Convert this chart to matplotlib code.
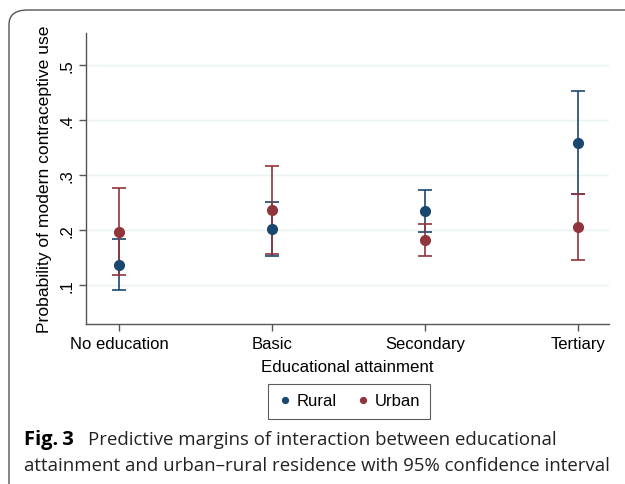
import matplotlib
matplotlib.use("Agg")
import matplotlib.pyplot as plt
from matplotlib.patches import FancyBboxPatch
import numpy as np

categories = ["No education", "Basic", "Secondary", "Tertiary"]
rural = [0.137, 0.202, 0.235, 0.358]
rural_lo = [0.091, 0.152, 0.197, 0.265]
rural_hi = [0.184, 0.251, 0.272, 0.452]
urban = [0.197, 0.237, 0.182, 0.205]
urban_lo = [0.118, 0.156, 0.153, 0.146]
urban_hi = [0.276, 0.317, 0.211, 0.265]
yticks = [0.1, 0.2, 0.3, 0.4, 0.5]
ytick_labels = [".1", ".2", ".3", ".4", ".5"]

navy = "#1a476f"
maroon = "#90353b"

fig = plt.figure(figsize=(6.25, 4.85), dpi=100)
plt.rcParams['font.family'] = ['Liberation Sans', 'DejaVu Sans']

# outer rounded frame
frame = FancyBboxPatch((9 / 625, -0.2), 1.2, (485 - 11) / 485 + 0.2,
                       boxstyle="round,pad=0,rounding_size=0.03",
                       transform=fig.transFigure, fill=False,
                       edgecolor="#555555", linewidth=1.0, clip_on=False)
fig.patches.append(frame)

ax = fig.add_axes([86 / 625, 1 - 325 / 485, (609 - 86) / 625, (325 - 34) / 485])
x = np.arange(len(categories))

for vals, lo, hi, col, lab in [(rural, rural_lo, rural_hi, navy, "Rural"),
                               (urban, urban_lo, urban_hi, maroon, "Urban")]:
    vals = np.array(vals); lo = np.array(lo); hi = np.array(hi)
    ax.errorbar(x, vals, yerr=[vals - lo, hi - vals], fmt="none",
                ecolor=col, elinewidth=1.2, capsize=5, capthick=1.2, zorder=3)
    ax.plot(x, vals, "o", color=col, markersize=7, zorder=4, label=lab)

ax.set_xlim(-0.216, 3.2)
ax.set_ylim(0.029, 0.558)
ax.set_xticks(x)
ax.set_xticklabels(categories, fontsize=12)
ax.set_yticks(yticks)
ax.set_yticklabels(ytick_labels, fontsize=12, rotation=90, va="center")
ax.grid(axis="y", color="#eaf2f3", linewidth=1.0)
ax.set_axisbelow(True)
for s in ["top", "right"]:
    ax.spines[s].set_visible(False)
for s in ["left", "bottom"]:
    ax.spines[s].set_color("#555555")
    ax.spines[s].set_linewidth(1.0)
ax.tick_params(colors="#555555", labelcolor="black", length=5, width=1.0)
ax.set_xlabel("Educational attainment", fontsize=12.2, labelpad=6)
ax.set_ylabel("Probability of modern contraceptive use", fontsize=12.6, labelpad=5)

leg = fig.legend(loc="center", bbox_to_anchor=(349 / 625, 1 - 402 / 485),
                 ncol=2, fontsize=12, frameon=True, fancybox=False,
                 edgecolor="#333333", markerscale=0.6, handletextpad=0.3,
                 columnspacing=1.2, borderpad=0.6, handlelength=0.8,
                 borderaxespad=0)
leg.get_frame().set_linewidth(0.8)

cap_font = ['Open Sans', 'DejaVu Sans']
fig.text(24 / 625, 1 - 440 / 485, "Fig.\u20093", fontsize=14.5, fontweight="bold",
         family=cap_font, va="center", ha="left")
fig.text(88 / 625, 1 - 440 / 485,
         "Predictive margins of interaction between educational",
         fontsize=13.4, family=cap_font, va="center", ha="left", color="#222222")
fig.text(24 / 625, 1 - 466 / 485,
         "attainment and urban\u2013rural residence with 95% confidence interval",
         fontsize=13.4, family=cap_font, va="center", ha="left", color="#222222")

fig.savefig("out.png", dpi=100)
